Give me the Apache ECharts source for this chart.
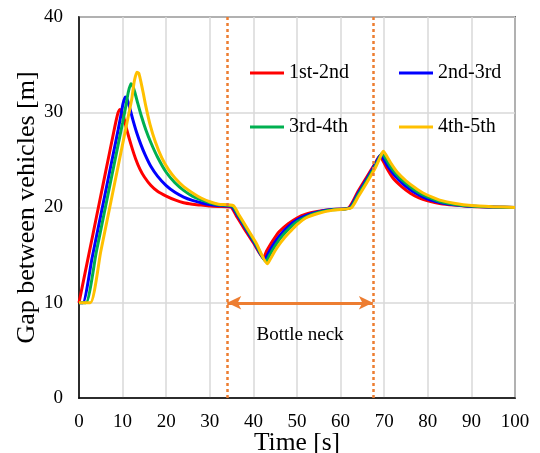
<!DOCTYPE html>
<html>
<head>
<meta charset="utf-8">
<script src="https://cdn.jsdelivr.net/npm/echarts@6/dist/echarts.min.js"></script>
<style>
  html, body { margin: 0; padding: 0; background: #fff; }
  #main { width: 540px; height: 453px; }
</style>
</head>
<body>
<div id="main"></div>
<script>
// gap between consecutive vehicles, [time s, gap m]
var gap12 = [[0,10],[2,14.5],[4,19],[6,23.5],[8,28],[8.6,29.3],[9.0,30.0],[9.4,30.3],[9.8,30.1],[10.3,29.4],[11,28.1],[12,26.5],[13,25.1],[14,24.0],[15,23.2],[16.5,22.3],[18,21.7],[20,21.2],[22,20.8],[24,20.5],[26,20.35],[28,20.25],[30,20.15],[32,20.1],[34.8,20.05],
  [36,19.2],[38,17.7],[40,16.3],[42.3,14.7],[43,15.4],[44,16.2],[45,16.9],[46,17.5],[48,18.3],[50,18.9],[52,19.3],[55,19.6],[58,19.8],[61.8,19.95],
  [64,21.7],[66,23.2],[68,24.7],[68.6,25.2],[69,25.4],[69.5,25.1],[70.5,24.2],[72,23.1],[74,22.2],[76,21.5],[78,21.0],[80,20.7],[83,20.4],[86,20.25],[90,20.1],[95,20.05],[100,20.0]];
var gap23 = [[0,10],[0.9,10],[3,14.7],[5,19.2],[7,23.7],[9,28.2],[9.7,29.9],[10.1,30.9],[10.6,31.6],[11.0,31.4],[11.5,30.7],[12.3,29.3],[13.2,27.9],[14.2,26.6],[15.2,25.5],[16.5,24.3],[18,23.3],[20,22.3],[22,21.6],[24,21.1],[26,20.75],[28,20.5],[30,20.3],[32,20.2],[35,20.1],
  [36.2,19.3],[38.2,17.8],[40.2,16.3],[42.6,14.5],[43.3,15.1],[44.3,15.9],[45.3,16.6],[46.3,17.2],[48,18.0],[50,18.7],[52,19.15],[55,19.55],[58,19.78],[62,19.95],
  [64,21.5],[66,23.0],[68,24.6],[68.8,25.3],[69.2,25.5],[69.7,25.2],[71,24.2],[72.5,23.3],[74.5,22.4],[76.5,21.7],[78.5,21.2],[80.5,20.8],[83,20.5],[86,20.3],[90,20.12],[95,20.05],[100,20.0]];
var gap34 = [[0,10],[1.6,10],[4,15.4],[6,19.9],[8,24.4],[10,28.9],[10.8,30.8],[11.3,32.1],[11.9,33.0],[12.3,32.8],[12.8,32.1],[13.5,30.9],[14.3,29.6],[15.3,28.2],[16.5,26.8],[18,25.3],[20,23.7],[22,22.6],[24,21.8],[26,21.2],[28,20.8],[30,20.5],[32,20.3],[35.2,20.15],
  [36.4,19.3],[38.4,17.8],[40.4,16.3],[42.9,14.3],[43.6,14.9],[44.6,15.7],[45.6,16.4],[46.6,17.0],[48,17.7],[50,18.5],[52,19.0],[55,19.5],[58,19.75],[62.2,19.95],
  [64,21.3],[66,22.8],[68,24.4],[69,25.3],[69.5,25.7],[70,25.4],[71.3,24.4],[72.8,23.5],[74.8,22.6],[76.8,21.9],[78.8,21.35],[80.8,20.95],[83,20.6],[86,20.35],[90,20.15],[95,20.05],[100,20.0]];
var gap45 = [[0,10],[2.6,10],[5,15.4],[7,19.9],[9,24.4],[11,28.9],[12.1,31.4],[12.7,33.3],[13.3,34.2],[13.7,34.1],[14.1,33.4],[14.7,32.1],[15.3,30.7],[16.3,28.7],[17.5,26.9],[19,25.2],[20.5,24.0],[22,23.1],[24,22.2],[26.5,21.4],[28,21.0],[30,20.6],[32,20.35],[35.4,20.2],
  [36.6,19.3],[38.6,17.8],[40.6,16.3],[43.2,14.1],[43.9,14.6],[44.9,15.4],[45.9,16.1],[46.9,16.7],[48.5,17.5],[50,18.2],[52,18.9],[55,19.4],[58,19.7],[62.4,19.95],
  [64,21.1],[66,22.6],[68,24.2],[69.3,25.5],[69.8,25.9],[70.3,25.6],[71.6,24.6],[73,23.7],[75,22.8],[77,22.1],[79,21.5],[81,21.1],[83,20.75],[86,20.45],[90,20.2],[95,20.08],[100,20.0]];

var seriesNames = ['1st-2nd', '2nd-3rd', '3rd-4th', '4th-5th'];
var seriesColors = ['#ff0000', '#0000ff', '#00b050', '#ffc000'];
var bottleneck = [34, 67.4];   // start / end time of the bottle neck [s]
var arrowLevel = 10;           // gap value where the arrow sits

var font = "'Liberation Serif', 'Times New Roman', serif";
var myChart = echarts.init(document.getElementById('main'));

// one legend per entry so the 2x2 block can be placed exactly
var legendPos = [[250, 63], [399, 63], [250, 117], [399, 117]];
var legends = seriesNames.map(function (n, i) {
  return {
    data: [n], left: legendPos[i][0], top: legendPos[i][1], padding: 0,
    icon: 'rect', itemWidth: 34, itemHeight: 3,
    textStyle: { fontFamily: font, fontSize: 20, color: '#000' }
  };
});

var orange = '#ed7d31';
var dataSets = [gap12, gap23, gap34, gap45];
var lines = dataSets.map(function (d, i) {
  return {
    name: seriesNames[i], type: 'line', data: d,
    showSymbol: false, symbol: 'none', smooth: 0.2,
    lineStyle: { color: seriesColors[i], width: 3 },
    itemStyle: { color: seriesColors[i] }
  };
});

var option = {
  animation: false,
  backgroundColor: '#fff',
  legend: legends,
  grid: { left: 79, right: 25, top: 17, bottom: 55, containLabel: false, outerBoundsMode: 'none',
          show: true, borderColor: '#000', borderWidth: 1.5 },
  xAxis: {
    type: 'value', min: 0, max: 100, interval: 10,
    name: 'Time [s]', nameLocation: 'middle', nameGap: 32, nameMoveOverlap: false,
    nameTextStyle: { fontFamily: font, fontSize: 25.5, color: '#000' },
    axisLine: { lineStyle: { color: '#000', width: 1.5 } },
    axisTick: { show: false },
    axisLabel: { fontFamily: font, fontSize: 19, color: '#000', margin: 15 },
    splitLine: { lineStyle: { color: '#d9d9d9', width: 1.5 } }
  },
  yAxis: {
    type: 'value', min: 0, max: 40, interval: 10,
    name: 'Gap between vehicles [m]', nameLocation: 'middle', nameGap: 39, nameMoveOverlap: false,
    nameTextStyle: { fontFamily: font, fontSize: 26, color: '#000' },
    axisLine: { lineStyle: { color: '#000', width: 1.5 } },
    axisTick: { show: false },
    axisLabel: { fontFamily: font, fontSize: 19, color: '#000', margin: 16 },
    splitLine: { lineStyle: { color: '#d9d9d9', width: 1.5 } }
  },
  series: [{
    name: 'bottleneck', type: 'line', data: [], silent: true,
    markLine: {
      silent: true, symbol: 'none', animation: false,
      label: { show: false },
      data: [
        [{ coord: [bottleneck[0], 0], lineStyle: { color: orange, width: 2.5, type: [3, 3] } }, { coord: [bottleneck[0], 40] }],
        [{ coord: [bottleneck[1], 0], lineStyle: { color: orange, width: 2.5, type: [3, 3] } }, { coord: [bottleneck[1], 40] }],
        [{ coord: [bottleneck[0], arrowLevel], symbol: 'arrow', symbolSize: [10, 14],
           lineStyle: { color: orange, width: 3, type: 'solid' },
           label: { show: true, formatter: 'Bottle neck', position: 'insideMiddleBottom', distance: 23,
                    fontFamily: font, fontSize: 19, color: '#000' } },
         { coord: [bottleneck[1], arrowLevel], symbol: 'arrow', symbolSize: [10, 14] }]
      ]
    }
  }].concat(lines)
};
myChart.setOption(option);
</script>
</body>
</html>
